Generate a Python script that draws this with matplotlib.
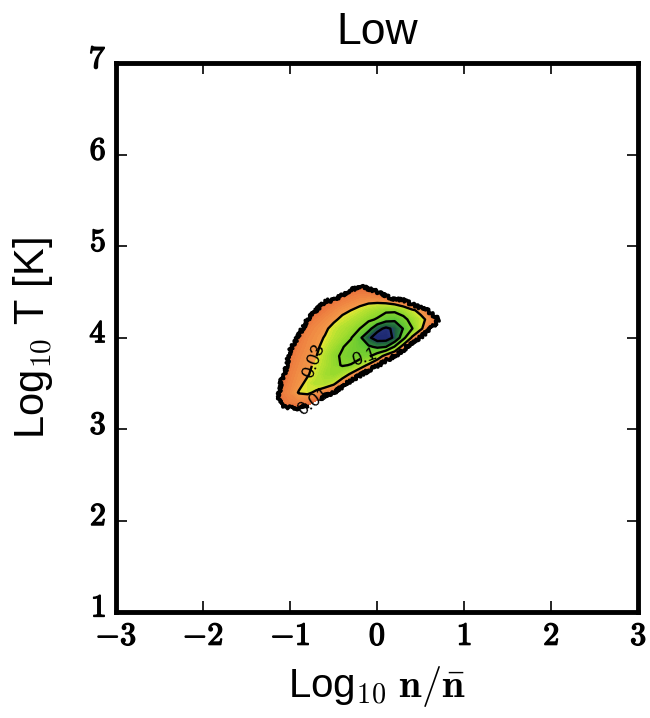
import numpy as np
import matplotlib
matplotlib.use("Agg")
import matplotlib.pyplot as plt
import matplotlib.patheffects as pe
from matplotlib.colors import LinearSegmentedColormap
from matplotlib.transforms import ScaledTranslation

plt.rcParams['mathtext.fontset'] = 'cm'
plt.rcParams['font.family'] = ['Liberation Sans', 'DejaVu Sans']
plt.rcParams['contour.negative_linestyle'] = 'solid'

# phase-space grid: log10 n/nbar (columns) and log10 T (rows)
log_n = np.round(np.arange(-1.3, 0.81, 0.1), 2)
log_T = np.round(np.arange(3.1, 4.71, 0.1), 2)

# log10 of the normalised cell fraction on that grid (-3 = empty)
log_frac = np.array([
    # -1.3  -1.2   -1.1   -1.0   -0.9   -0.8   -0.7   -0.6   -0.5   -0.4   -0.3   -0.2   -0.1    0.0    0.1    0.2    0.3    0.4    0.5    0.6    0.7    0.8
    [-3.00, -3.00, -3.00, -3.00, -3.00, -3.00, -3.00, -3.00, -3.00, -3.00, -3.00, -3.00, -3.00, -3.00, -3.00, -3.00, -3.00, -3.00, -3.00, -3.00, -3.00, -3.00],  # 3.1
    [-3.00, -2.60, -2.20, -2.10, -2.10, -2.20, -2.50, -2.80, -3.00, -3.00, -3.00, -3.00, -3.00, -3.00, -3.00, -3.00, -3.00, -3.00, -3.00, -3.00, -3.00, -3.00],  # 3.2
    [-3.00, -2.30, -1.90, -1.80, -1.75, -1.85, -2.05, -2.40, -3.00, -3.00, -3.00, -3.00, -3.00, -3.00, -3.00, -3.00, -3.00, -3.00, -3.00, -3.00, -3.00, -3.00],  # 3.3
    [-3.00, -2.40, -1.85, -1.70, -1.50, -1.45, -1.60, -1.80, -2.00, -2.40, -3.00, -3.00, -3.00, -3.00, -3.00, -3.00, -3.00, -3.00, -3.00, -3.00, -3.00, -3.00],  # 3.4
    [-3.00, -2.50, -1.95, -1.75, -1.60, -1.45, -1.30, -1.30, -1.45, -1.80, -2.20, -2.70, -3.00, -3.00, -3.00, -3.00, -3.00, -3.00, -3.00, -3.00, -3.00, -3.00],  # 3.5
    [-3.00, -2.60, -2.10, -1.80, -1.65, -1.55, -1.40, -1.20, -1.12, -1.30, -1.60, -1.90, -2.30, -2.80, -3.00, -3.00, -3.00, -3.00, -3.00, -3.00, -3.00, -3.00],  # 3.6
    [-3.00, -2.70, -2.25, -1.85, -1.70, -1.60, -1.45, -1.28, -1.10, -0.97, -1.02, -1.30, -1.60, -1.95, -2.30, -2.80, -3.00, -3.00, -3.00, -3.00, -3.00, -3.00],  # 3.7
    [-3.00, -2.80, -2.40, -1.90, -1.75, -1.62, -1.53, -1.32, -1.08, -0.95, -0.85, -0.84, -0.92, -1.25, -1.70, -2.00, -2.50, -3.00, -3.00, -3.00, -3.00, -3.00],  # 3.8
    [-3.00, -3.00, -2.60, -2.05, -1.80, -1.68, -1.58, -1.42, -1.22, -1.02, -0.88, -0.75, -0.60, -0.45, -0.52, -1.05, -1.75, -2.40, -3.00, -3.00, -3.00, -3.00],  # 3.9
    [-3.00, -3.00, -3.00, -2.40, -1.90, -1.72, -1.62, -1.50, -1.35, -1.20, -1.02, -0.62, -0.10,  0.25,  0.25, -0.10, -0.85, -1.60, -2.05, -2.70, -3.00, -3.00],  # 4.0
    [-3.00, -3.00, -3.00, -3.00, -2.15, -1.80, -1.68, -1.58, -1.42, -1.30, -1.18, -1.00, -0.70, -0.15,  0.10, -0.10, -0.55, -0.98, -1.45, -1.90, -2.60, -3.00],  # 4.1
    [-3.00, -3.00, -3.00, -3.00, -3.00, -2.00, -1.80, -1.68, -1.58, -1.45, -1.35, -1.22, -1.08, -0.96, -0.70, -0.62, -0.85, -1.18, -1.40, -1.65, -1.95, -3.00],  # 4.2
    [-3.00, -3.00, -3.00, -3.00, -3.00, -3.00, -1.98, -1.85, -1.72, -1.60, -1.52, -1.42, -1.30, -1.20, -1.10, -1.10, -1.25, -1.45, -1.65, -2.10, -3.00, -3.00],  # 4.3
    [-3.00, -3.00, -3.00, -3.00, -3.00, -3.00, -3.00, -1.98, -1.90, -1.80, -1.72, -1.65, -1.60, -1.60, -1.65, -1.75, -1.90, -2.30, -3.00, -3.00, -3.00, -3.00],  # 4.4
    [-3.00, -3.00, -3.00, -3.00, -3.00, -3.00, -3.00, -3.00, -3.00, -2.10, -1.90, -1.85, -1.88, -1.97, -2.30, -3.00, -3.00, -3.00, -3.00, -3.00, -3.00, -3.00],  # 4.5
    [-3.00, -3.00, -3.00, -3.00, -3.00, -3.00, -3.00, -3.00, -3.00, -3.00, -2.30, -2.10, -2.20, -3.00, -3.00, -3.00, -3.00, -3.00, -3.00, -3.00, -3.00, -3.00],  # 4.6
    [-3.00, -3.00, -3.00, -3.00, -3.00, -3.00, -3.00, -3.00, -3.00, -3.00, -3.00, -3.00, -3.00, -3.00, -3.00, -3.00, -3.00, -3.00, -3.00, -3.00, -3.00, -3.00],  # 4.7
])

# labelled contours and where their numbers sit
labelled_levels = [0.01, 0.03, 0.1]
labelled_names = ['0.01', '0.03', '0.1']
label_spots = [(-0.72, 3.29), (-0.74, 3.75), (-0.14, 3.78)]
plain_levels = [0.3, 1.0]

x_ticks = [-3, -2, -1, 0, 1, 2, 3]
y_ticks = [1, 2, 3, 4, 5, 6, 7]

# orange -> yellow -> lime -> green -> navy, stepping at the 0.03 contour
vmin, vmax = -2.0, 0.3
stops = [(-2.00, '#e8693a'), (-1.53, '#f49a48'), (-1.51, '#eee636'),
         (-1.35, '#b9e230'), (-1.00, '#86d52c'), (-0.53, '#58c236'),
         (-0.50, '#2f8f3c'), (-0.10, '#1d5e3c'), (0.00, '#26357e'),
         (0.30, '#1c2670')]
cmap = LinearSegmentedColormap.from_list(
    'phase', [((v - vmin) / (vmax - vmin), c) for v, c in stops])

fig = plt.figure(figsize=(6.5, 7.18), dpi=100)
ax = fig.add_axes([0.1785, 0.1476, 0.8038, 0.764])

X, Y = np.meshgrid(log_n, log_T)
ax.contourf(X, Y, log_frac, levels=np.linspace(vmin, vmax, 47),
            cmap=cmap, vmin=vmin, vmax=vmax)
ax.contour(X, Y, log_frac, levels=np.log10(plain_levels), colors='black',
           linewidths=1.7)
for val, name, pos in zip(labelled_levels, labelled_names, label_spots):
    outer = val == labelled_levels[0]
    cs = ax.contour(X, Y, log_frac, levels=[np.log10(val)], colors='black',
                    linewidths=2.6 if outer else 1.7)
    if outer:
        # ragged edge of the sparsely populated outskirts
        cs.set_sketch_params(scale=1.6, length=3, randomness=3)
    ax.clabel(cs, manual=[pos], fmt={cs.levels[0]: name},
              fontsize=13, inline=True, inline_spacing=2)

ax.set_xlim(-3, 3)
ax.set_ylim(1, 7)
ax.set_xticks(x_ticks)
ax.set_yticks(y_ticks)
ax.set_xticklabels([r'$\mathbf{%d}$' % t if t >= 0 else r'$\mathbf{-%d}$' % -t for t in x_ticks])
ax.set_yticklabels([r'$\mathbf{%d}$' % t for t in y_ticks])
ax.tick_params(direction='in', length=8, width=1.2, top=True, right=True,
               labelsize=23, pad=7)
heavy = [pe.withStroke(linewidth=1.0, foreground='black')]
lift = ScaledTranslation(0, 5 / 72, fig.dpi_scale_trans)
for lab in ax.get_xticklabels():
    lab.set_path_effects(heavy)
for lab in ax.get_yticklabels():
    lab.set_path_effects(heavy)
    lab.set_transform(lab.get_transform() + lift)
for s in ax.spines.values():
    s.set_linewidth(3.5)

ax.set_title('Low', fontsize=32, pad=14)
ax.set_xlabel(r'Log$_{10}$ $\mathbf{n/\bar{n}}$', fontsize=29, labelpad=9)
ax.set_ylabel(r'Log$_{10}$ T [K]', fontsize=30, labelpad=24)

fig.savefig('out.png', dpi=100)
